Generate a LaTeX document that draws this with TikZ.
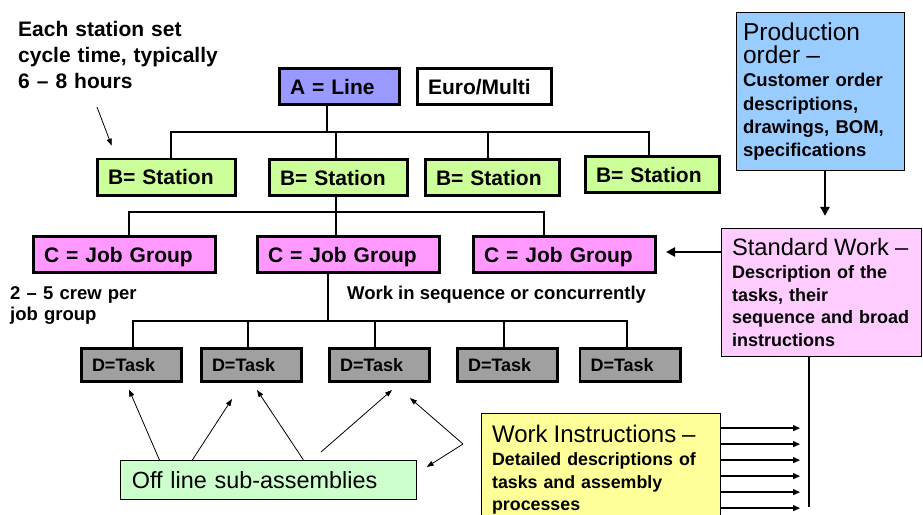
\documentclass[tikz,border=0pt]{standalone}
\usepackage{fontspec}
\setmainfont{Liberation Sans}
\usetikzlibrary{arrows.meta,calc}

\definecolor{lineblue}{HTML}{9999FF}
\definecolor{stationgreen}{HTML}{CCFF99}
\definecolor{groupmagenta}{HTML}{FF99FF}
\definecolor{taskgrey}{HTML}{A0A0A0}
\definecolor{orderblue}{HTML}{99CCFF}
\definecolor{standardpink}{HTML}{FFCCFF}
\definecolor{instryellow}{HTML}{FFFF99}
\definecolor{subgreen}{HTML}{CCFFCC}

% a heading line in a panel: regular weight, larger size, natural spacing
\newcommand\paneltitle[2]{\mbox{\fontsize{#1}{23}\selectfont\mdseries #2}}

\begin{document}
\begin{tikzpicture}[x=1pt,y=-1pt,
  level/.style={draw, line width=2.6pt, inner xsep=10.7pt, inner ysep=0pt, align=left,
    minimum height=36.4pt, text height=15pt, text depth=0pt,
    font=\fontsize{21}{25}\selectfont\bfseries},
  taskbox/.style={level, fill=taskgrey, minimum height=33.4pt, text height=12.9pt,
    text width=79pt, font=\fontsize{18}{22}\selectfont\bfseries},
  panel/.style={draw, line width=1.2pt, align=left, inner ysep=0pt},
  note/.style={inner sep=0pt, align=left, anchor=base west},
  tree/.style={line width=2.6pt},
  heavyarrow/.style={line width=2.6pt, -{Triangle[length=9pt,width=9pt]}},
  pointer/.style={line width=0.8pt, -{Triangle[length=7pt,width=5pt]}},
  feedarrow/.style={line width=1.3pt, -{Triangle[length=7pt,width=6pt]}},
]
\useasboundingbox (0,0) rectangle (923,514);

% hierarchy boxes
\node[level, fill=lineblue, text width=99pt] (line) at (339.5,86.5) {A = Line};
\node[level, fill=white, text width=113pt] (euro) at (484.5,86.5) {Euro/Multi};

\node[level, fill=stationgreen, text width=117pt] (station1) at (166.5,177.2) {B= Station};
\node[level, fill=stationgreen, text width=117pt] (station2) at (338.5,177.5) {B= Station};
\node[level, fill=stationgreen, text width=113pt] (station3) at (492.5,177.5) {B= Station};
\node[level, fill=stationgreen, text width=113pt] (station4) at (652.5,174.5) {B= Station};

\node[level, fill=groupmagenta, text width=161pt] (group1) at (124.5,254.5) {C = Job Group};
\node[level, fill=groupmagenta, text width=161pt] (group2) at (348.5,254.5) {C = Job Group};
\node[level, fill=groupmagenta, text width=161pt] (group3) at (564.5,254.5) {C = Job Group};

\node[taskbox] (task1) at (131.5,365) {D=Task};
\node[taskbox] (task2) at (251.5,365) {D=Task};
\node[taskbox] (task3) at (379.5,365) {D=Task};
\node[taskbox] (task4) at (507.5,365) {D=Task};
\node[taskbox] (task5) at (630,365) {D=Task};

% document panels
\node[panel, fill=orderblue, text width=155pt, inner xsep=6.4pt, minimum height=158pt,
  font=\fontsize{18.5}{23.3}\selectfont\bfseries]
  (order) at (820.5,91.5)
  {\paneltitle{24.5}{Production}\\\paneltitle{24.5}{order –}\\
   Customer order\\descriptions,\\drawings, BOM,\\specifications};

\node[panel, fill=standardpink, text width=179pt, inner xsep=10.5pt, minimum height=128pt,
  font=\fontsize{18}{22.8}\selectfont\bfseries]
  (standard) at (821.5,292.5)
  {\paneltitle{23.7}{Standard Work –}\\
   Description of the\\tasks, their\\sequence and broad\\instructions};

\node[panel, fill=instryellow, anchor=north, text width=217.8pt, inner xsep=10.5pt, inner ysep=12pt,
  font=\fontsize{17.8}{22.8}\selectfont\bfseries]
  (instr) at (601,412.6)
  {\paneltitle{24}{Work Instructions –}\\
   Detailed descriptions of\\tasks and assembly\\processes};

\node[panel, fill=subgreen, text width=273.2pt, inner xsep=11.4pt, minimum height=39pt,
  text height=16.8pt, text depth=0pt, font=\fontsize{23.4}{26}\selectfont]
  (sub) at (268.5,480) {Off line sub-assemblies};

% annotations
\node[note, text width=220pt, font=\fontsize{21}{25.8}\selectfont\bfseries]
  (cyclenote) at (18,36.7) {Each station set\\cycle time, typically\\6 – 8 hours};
\node[note, text width=140pt, font=\fontsize{18.5}{20.7}\selectfont\bfseries]
  (crewnote) at (10,299.3) {2 – 5 crew per\\job group};
\node[note, font=\fontsize{18.5}{22}\selectfont\bfseries]
  (seqnote) at (347,299.3) {Work in sequence or concurrently};

% line -> stations
\draw[tree] ([xshift=-12.5pt]line.south) -- ++(0,26) coordinate (busAB);
\draw[tree] ([xshift=4.5pt]station1.north) |- (busAB) -| ([xshift=-3.5pt]station4.north);
\draw[tree] ([xshift=-2.5pt]station2.north) -- ([xshift=-2.5pt]station2.north |- busAB);
\draw[tree] ([xshift=-4.5pt]station3.north) -- ([xshift=-4.5pt]station3.north |- busAB);

% station -> job groups
\draw[tree] ([xshift=-2.5pt]station2.south) -- ++(0,15) coordinate (busBC);
\draw[tree] ([xshift=4.5pt]group1.north) |- (busBC) -| ([xshift=-20.5pt]group3.north);
\draw[tree] ([xshift=-12.5pt]group2.north) -- ([xshift=-12.5pt]group2.north |- busBC);

% job group -> tasks
\draw[tree] ([xshift=-20.5pt]group2.south) -- ++(0,47) coordinate (busCD);
\draw[tree] ([xshift=1.5pt]task1.north) |- (busCD) -| ([xshift=-3pt]task5.north);
\draw[tree] ([xshift=-3.5pt]task2.north) -- ([xshift=-3.5pt]task2.north |- busCD);
\draw[tree] ([xshift=-4.5pt]task3.north) -- ([xshift=-4.5pt]task3.north |- busCD);
\draw[tree] ([xshift=-3.5pt]task4.north) -- ([xshift=-3.5pt]task4.north |- busCD);

% document flow
\draw[heavyarrow] ([xshift=4.5pt]order.south) -- ([xshift=3.5pt,yshift=12pt]standard.north);
\draw[heavyarrow] ([yshift=2.5pt]group3.east -| standard.west) -- ([xshift=9pt,yshift=2.5pt]group3.east);
\draw[tree] ([xshift=-12.5pt]standard.south) -- ++(0,150);
\foreach \k in {0,...,5}
  \draw[feedarrow] ($(instr.north east)+(0,15.5+16*\k)$) -- ++(79,0);

% thin pointers
\coordinate (cycletail) at (97,107);
\draw[pointer] (cycletail) -- ([xshift=15.7pt,yshift=12pt]station1.north west);
\draw[pointer] ([xshift=39.5pt]sub.north west) -- ([xshift=-2.5pt,yshift=-6.5pt]task1.south);
\draw[pointer] ([xshift=72.5pt]sub.north west) -- ([xshift=-19.5pt,yshift=-16pt]task2.south);
\draw[pointer] ([xshift=183.5pt]sub.north west) -- ([xshift=5.5pt,yshift=-7pt]task2.south);
\coordinate (subtail) at (321,452);
\draw[pointer] (subtail) -- ([xshift=12.5pt,yshift=-7pt]task3.south);
\coordinate (fork) at (463,444);
\draw[pointer] (fork) -- ([xshift=30.5pt,yshift=-15pt]task3.south);
\draw[pointer] (fork) -- ([xshift=9.6pt,yshift=13pt]sub.east);
\end{tikzpicture}
\end{document}
